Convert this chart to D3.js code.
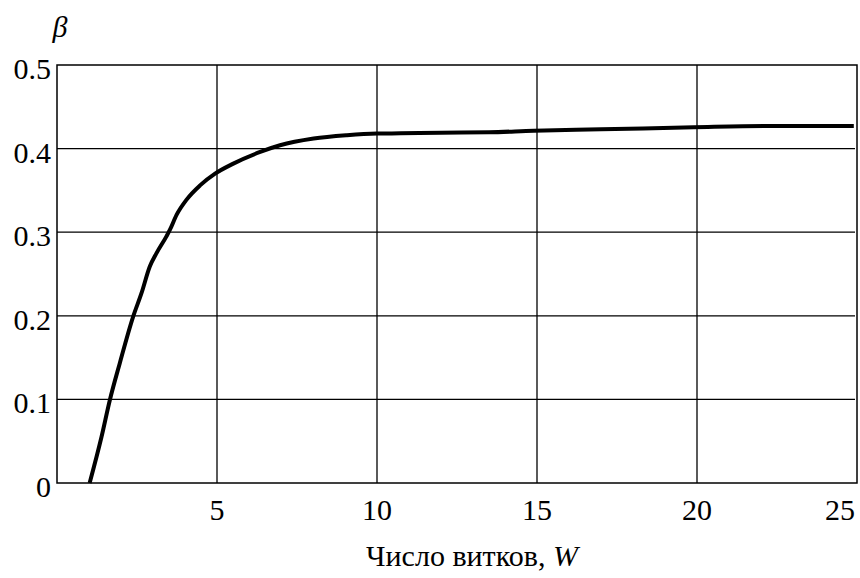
<!DOCTYPE html>
<html>
<head>
    <meta charset="utf-8">
    <title>beta vs W</title>
    <style>
        body { margin: 0; background: #fff; overflow: hidden; }
    </style>
    <script src="https://d3js.org/d3.v7.min.js"></script>
</head>
<body>
<script>
    // data
    const turns = [1.02, 1.39, 1.65, 1.96, 2.38, 2.64, 2.90, 3.11, 3.42, 3.53, 3.74, 4.05, 4.47, 4.94, 5.51, 6.35, 6.97, 8.02, 9.06, 10.0, 10.73, 12.0, 13.5, 14.9, 17.0, 19.9, 22.2, 24.9];
    const beta  = [0, 0.055, 0.099, 0.143, 0.199, 0.227, 0.259, 0.275, 0.295, 0.303, 0.321, 0.339, 0.356, 0.370, 0.382, 0.396, 0.404, 0.412, 0.416, 0.418, 0.4183, 0.419, 0.4195, 0.4214, 0.423, 0.4255, 0.427, 0.427];
    const xTicks = [5, 10, 15, 20, 25];
    const yTicks = [0, 0.1, 0.2, 0.3, 0.4, 0.5];

    const width = 860, height = 578;
    const mLeft = 57, mRight = 857, mTop = 65, mBottom = 483;
    const fontSize = 30;

    const x = d3.scaleLinear().domain([0, 25]).range([mLeft, mRight]);
    const y = d3.scaleLinear().domain([0, 0.5]).range([mBottom, mTop]);

    const svg = d3.select("body").append("svg")
        .attr("width", width)
        .attr("height", height);

    // grid
    svg.append("g").selectAll("line")
        .data(xTicks.filter(d => d < 25))
        .enter().append("line")
        .attr("x1", d => x(d)).attr("x2", d => x(d))
        .attr("y1", mTop).attr("y2", mBottom)
        .attr("stroke", "#000").attr("stroke-width", 1.3);

    svg.append("g").selectAll("line")
        .data(yTicks.filter(d => d > 0 && d < 0.5))
        .enter().append("line")
        .attr("x1", mLeft).attr("x2", mRight - 2)
        .attr("y1", d => y(d)).attr("y2", d => y(d))
        .attr("stroke", "#000").attr("stroke-width", 1.3);

    // frame
    svg.append("rect")
        .attr("x", mLeft).attr("y", mTop)
        .attr("width", mRight - mLeft).attr("height", mBottom - mTop)
        .attr("fill", "none").attr("stroke", "#000").attr("stroke-width", 1.5);

    // tick labels
    svg.append("g").selectAll("text")
        .data(yTicks)
        .enter().append("text")
        .attr("font-family", "Liberation Serif")
        .attr("x", mLeft - 6)
        .attr("y", d => y(d) + 14)
        .attr("text-anchor", "end")
        .attr("font-size", fontSize)
        .text(d => d === 0 ? "0" : d.toFixed(1));

    svg.append("g").selectAll("text")
        .data(xTicks)
        .enter().append("text")
        .attr("font-family", "Liberation Serif")
        .attr("x", d => d === 25 ? x(d) - 2 : x(d))
        .attr("y", mBottom + 37)
        .attr("text-anchor", d => d === 25 ? "end" : "middle")
        .attr("font-size", fontSize)
        .text(d => d);

    // axis titles
    const title = svg.append("text")
        .attr("font-family", "Liberation Serif")
        .attr("x", 472)
        .attr("y", 566)
        .attr("text-anchor", "middle")
        .attr("font-size", fontSize)
        .text("Число витков, ");
    title.append("tspan").attr("font-style", "italic").text("W");

    svg.append("text")
        .attr("font-family", "Liberation Serif")
        .attr("x", 60)
        .attr("y", 37)
        .attr("text-anchor", "middle")
        .attr("font-size", fontSize)
        .attr("font-style", "italic")
        .text("β");

    // curve
    const pts = turns.map((t, i) => [t, beta[i]]);
    svg.append("path")
        .datum(pts)
        .attr("fill", "none")
        .attr("stroke", "#000")
        .attr("stroke-width", 4)
        .attr("stroke-linejoin", "round")
        .attr("d", d3.line()
            .x(d => x(d[0]))
            .y(d => y(d[1]))
            .curve(d3.curveMonotoneX));
</script>
</body>
</html>
